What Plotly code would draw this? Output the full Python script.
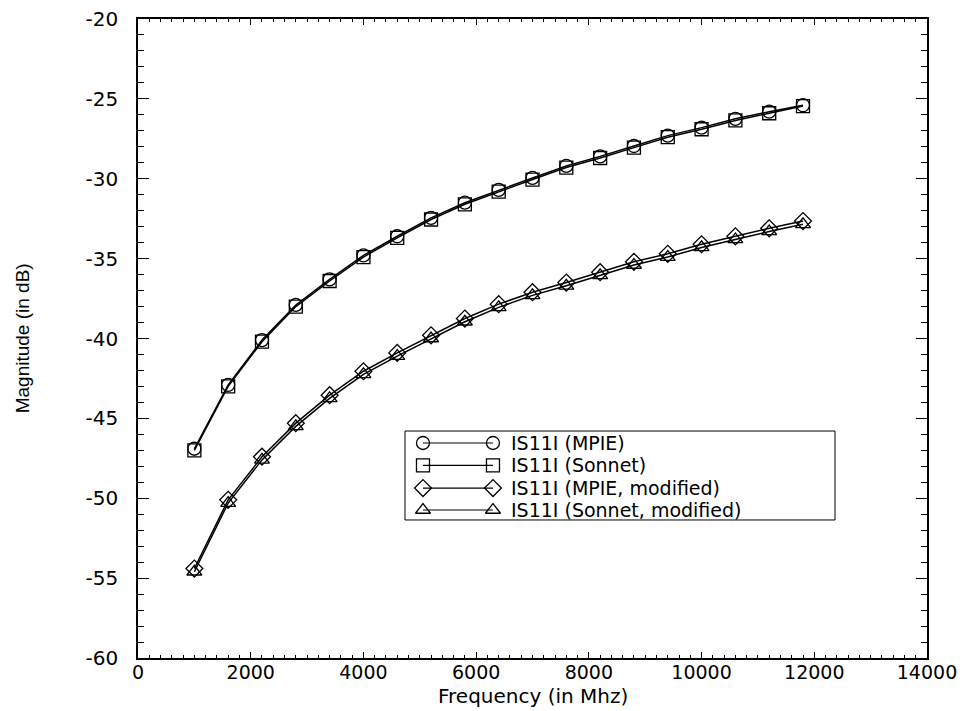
import plotly.graph_objects as go

# ---- data ----
freq = [1000, 1600, 2200, 2800, 3400, 4000, 4600, 5200, 5800, 6400,
        7000, 7600, 8200, 8800, 9400, 10000, 10600, 11200, 11800]
mpie = [-46.9, -42.9, -40.1, -37.9, -36.3, -34.8, -33.6, -32.45, -31.5, -30.7,
        -29.95, -29.2, -28.6, -27.95, -27.3, -26.8, -26.25, -25.8, -25.4]
sonnet = [-47.0, -43.0, -40.2, -38.0, -36.4, -34.9, -33.7, -32.55, -31.6, -30.8,
          -30.05, -29.3, -28.7, -28.05, -27.4, -26.9, -26.35, -25.9, -25.45]
mpie_mod = [-54.4, -50.1, -47.4, -45.3, -43.55, -42.05, -40.9, -39.8, -38.75, -37.85,
            -37.1, -36.5, -35.85, -35.2, -34.7, -34.1, -33.6, -33.1, -32.65]
sonnet_mod = [-54.6, -50.3, -47.6, -45.5, -43.75, -42.25, -41.1, -40.0, -38.95, -38.05,
              -37.3, -36.7, -36.05, -35.4, -34.9, -34.3, -33.8, -33.3, -32.85]

series_names = ["IS11I (MPIE)", "IS11I (Sonnet)", "IS11I (MPIE, modified)", "IS11I (Sonnet, modified)"]
series_vals = [mpie, sonnet, mpie_mod, sonnet_mod]
symbols = ["circle-open", "square-open", "diamond-open", "triangle-up-open"]

x_ticks = [0, 2000, 4000, 6000, 8000, 10000, 12000, 14000]
x_labels = ["0", "2000", "4000", "6000", "8000", "10000", "12000", "14000"]
y_ticks = [-60, -55, -50, -45, -40, -35, -30, -25, -20]
y_labels = ["-60", "-55", "-50", "-45", "-40", "-35", "-30", "-25", "-20"]
x_minor_step = 200
y_minor_step = 1

FONT = "DejaVu Sans"
fig = go.Figure()

for name, vals, sym in zip(series_names, series_vals, symbols):
    fig.add_trace(go.Scatter(
        x=freq, y=vals, name=name, mode="lines+markers",
        line=dict(color="black", width=1.5),
        marker=dict(symbol=sym, size=13, color="black", line=dict(width=1.3, color="black")),
        showlegend=False,
    ))

# ---- custom legend (box, sample lines with markers at both ends, text) ----
lg_left, lg_right, lg_top, lg_bottom = 0.3384, 0.8834, 0.3552, 0.2160
row_y = [0.3365, 0.3013, 0.2660, 0.2316]
sample_x = [0.3612, 0.4499]
text_x = 0.4700

fig.add_shape(type="rect", xref="paper", yref="paper",
              x0=lg_left, x1=lg_right, y0=lg_bottom, y1=lg_top,
              line=dict(color="black", width=1), fillcolor="white", layer="below")

for name, sym, ry in zip(series_names, symbols, row_y):
    fig.add_trace(go.Scatter(
        x=sample_x, y=[ry, ry], mode="lines+markers", xaxis="x2", yaxis="y2",
        line=dict(color="black", width=1.2),
        marker=dict(symbol=sym, size=13, color="black", line=dict(width=1.3, color="black")),
        showlegend=False, hoverinfo="skip",
    ))
    fig.add_annotation(x=text_x, y=ry, xref="paper", yref="paper", text=name,
                       showarrow=False, xanchor="left", yanchor="middle",
                       font=dict(family=FONT, size=19, color="black"))

# axis titles as annotations for exact placement
fig.add_annotation(x=0.5, y=-0.06, xref="paper", yref="paper", text="Frequency (in Mhz)",
                   showarrow=False, xanchor="center", yanchor="middle",
                   font=dict(family=FONT, size=20, color="black"))
fig.add_annotation(x=-0.146, y=0.5, xref="paper", yref="paper", text="Magnitude (in dB)",
                   showarrow=False, xanchor="center", yanchor="middle", textangle=-90,
                   font=dict(family="Liberation Sans", size=19, color="black"))

axis_common = dict(
    showgrid=False, zeroline=False, showline=True, linecolor="black", linewidth=1.5,
    mirror="ticks", ticks="inside", tickcolor="black", tickwidth=1.3, automargin=False,
)

fig.update_layout(
    width=967, height=711,
    margin=dict(l=138, r=40, t=19, b=53),
    paper_bgcolor="white", plot_bgcolor="white",
    showlegend=False,
    xaxis=dict(
        range=[x_ticks[0], x_ticks[-1]], tickmode="array", tickvals=x_ticks, ticktext=x_labels,
        ticklen=6, ticklabelstandoff=-4,
        tickfont=dict(family=FONT, size=19, color="black"),
        minor=dict(tickmode="linear", tick0=x_ticks[0], dtick=x_minor_step,
                   ticks="inside", ticklen=3, tickcolor="black", tickwidth=1),
        **axis_common,
    ),
    yaxis=dict(
        range=[y_ticks[0], y_ticks[-1]], tickmode="array", tickvals=y_ticks, ticktext=y_labels,
        ticklen=11, ticklabelstandoff=14,
        tickfont=dict(family=FONT, size=20, color="black"),
        minor=dict(tickmode="linear", tick0=y_ticks[0], dtick=y_minor_step,
                   ticks="inside", ticklen=6, tickcolor="black", tickwidth=1),
        **axis_common,
    ),
    xaxis2=dict(overlaying="x", range=[0, 1], visible=False, anchor="y2"),
    yaxis2=dict(overlaying="y", range=[0, 1], visible=False, anchor="x2"),
)

fig.write_html("out.html")
